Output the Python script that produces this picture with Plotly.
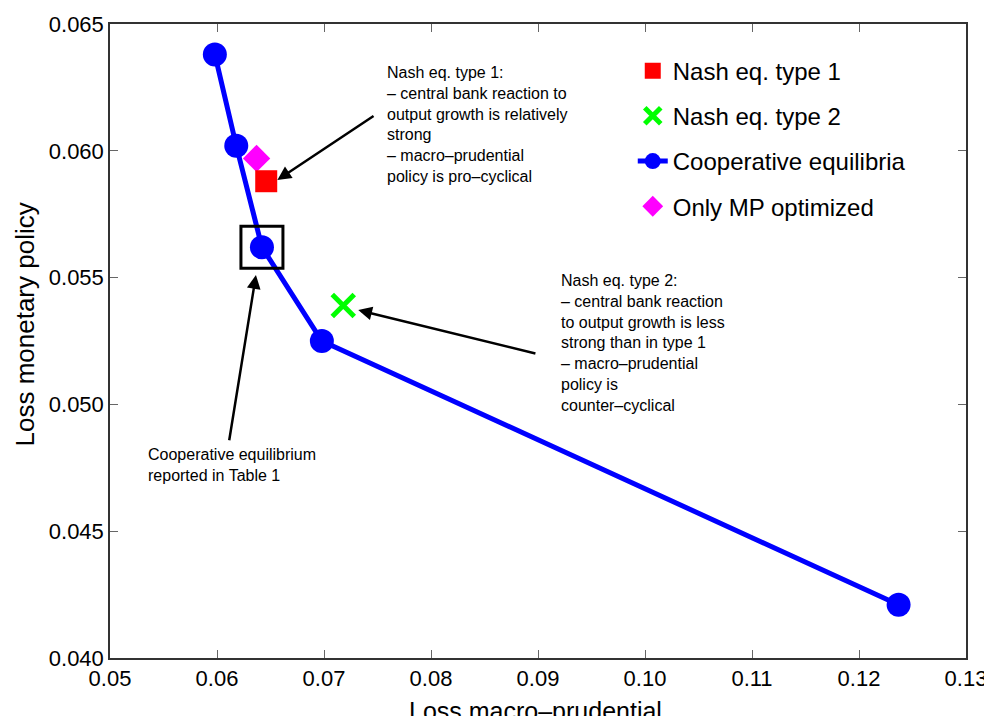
import plotly.graph_objects as go

# ---- data ----
coop_x = [0.0598, 0.0618, 0.0642, 0.0698, 0.1237]
coop_y = [0.0638, 0.0602, 0.0562, 0.0525, 0.0421]
nash1_x = [0.0646]
nash1_y = [0.0588]
nash2_x = [0.0718]
nash2_y = [0.0539]
mp_x = [0.0637]
mp_y = [0.0597]
reported_x = [0.0642]
reported_y = [0.0562]

x_ticks = [0.05, 0.06, 0.07, 0.08, 0.09, 0.10, 0.11, 0.12, 0.13]
y_ticks = [0.040, 0.045, 0.050, 0.055, 0.060, 0.065]

FONT = "Liberation Sans, Arial, Helvetica, sans-serif"

fig = go.Figure()

fig.add_trace(go.Scatter(
    x=coop_x, y=coop_y, mode="lines+markers", name="Cooperative equilibria",
    line=dict(color="#0000ff", width=5),
    marker=dict(symbol="circle", size=24, color="#0000ff"),
    legendgroup="c", legendrank=3))
fig.add_trace(go.Scatter(
    x=mp_x, y=mp_y, mode="markers", name="Only MP optimized",
    marker=dict(symbol="diamond", size=21, color="#ff00ff"),
    legendgroup="d", legendrank=4))
fig.add_trace(go.Scatter(
    x=nash1_x, y=nash1_y, mode="markers", name="Nash eq. type 1",
    marker=dict(symbol="square", size=22, color="#ff0000"),
    legendgroup="a", legendrank=1))
fig.add_trace(go.Scatter(
    x=nash2_x, y=nash2_y, mode="markers", name="Nash eq. type 2",
    marker=dict(symbol="x-thin", size=22, color="#00ff00",
                line=dict(color="#00ff00", width=5)),
    legendgroup="b", legendrank=2))
fig.add_trace(go.Scatter(
    x=reported_x, y=reported_y, mode="markers", showlegend=False,
    marker=dict(symbol="square-open", size=42, color="black",
                line=dict(color="black", width=3))))

txt_font = dict(family=FONT, size=16, color="black")
texts = [
    (0.0757, 0.0635, "Nash eq. type 1:<br>– central bank reaction to<br>output growth is relatively<br>strong<br>– macro–prudential<br>policy is pro–cyclical"),
    (0.09196, 0.05529, "Nash eq. type 2:<br>– central bank reaction<br>to output growth is less<br>strong than in type 1<br>– macro–prudential<br>policy is<br>counter–cyclical"),
    (0.05333, 0.04843, "Cooperative equilibrium<br>reported in Table 1"),
]
for tx, ty, t in texts:
    fig.add_annotation(x=tx, y=ty, xref="x", yref="y", text=t, showarrow=False,
                       xanchor="left", yanchor="top", align="left", font=txt_font)

arrows = [
    (0.06564, 0.05885, 0.07477, 0.06141),
    (0.06364, 0.0551, 0.06112, 0.04853),
    (0.0732, 0.05372, 0.0899, 0.05199),
]
for hx, hy, tx, ty in arrows:
    fig.add_annotation(x=hx, y=hy, ax=tx, ay=ty, xref="x", yref="y",
                       axref="x", ayref="y", text="", showarrow=True,
                       arrowhead=2, arrowsize=1.1, arrowwidth=2.5,
                       arrowcolor="black", standoff=0, startstandoff=0)

# axis titles as annotations so they sit exactly where the reference has them
fig.add_annotation(x=-0.0993, y=0.526, xref="paper", yref="paper",
                   text="Loss monetary policy", textangle=-90, showarrow=False,
                   xanchor="center", yanchor="middle",
                   font=dict(family=FONT, size=26, color="black"))
fig.add_annotation(x=0.497, y=-0.0584, xref="paper", yref="paper",
                   text="Loss macro–prudential", showarrow=False,
                   xanchor="center", yanchor="top",
                   font=dict(family=FONT, size=25, color="black"))

axis_common = dict(
    showline=True, linecolor="#333333", linewidth=1.5, mirror="ticks",
    ticks="inside", ticklen=8, tickcolor="#666666", tickwidth=1,
    showgrid=False, zeroline=False,
    tickfont=dict(family=FONT, size=22, color="black"),
)

fig.update_xaxes(range=[0.05, 0.13], tickvals=x_ticks, tickformat=".2f",
                 automargin=False, **axis_common)
fig.update_yaxes(range=[0.040, 0.065], tickvals=y_ticks, tickformat=".3f",
                 automargin=False, **axis_common)

# the page adds an 8 px body margin, so the figure is 8 px smaller and
# the top/left margins are reduced by 8 px
fig.update_layout(
    width=984, height=708,
    margin=dict(l=102, r=26, t=16, b=58),
    plot_bgcolor="white", paper_bgcolor="white",
    font=dict(family=FONT, color="black"),
    legend=dict(x=0.6107, y=0.9613, xanchor="left", yanchor="top",
                traceorder="grouped", tracegroupgap=11,
                bgcolor="rgba(255,255,255,0)", borderwidth=0,
                font=dict(family=FONT, size=24, color="black")),
)

fig.write_html("out.html")
